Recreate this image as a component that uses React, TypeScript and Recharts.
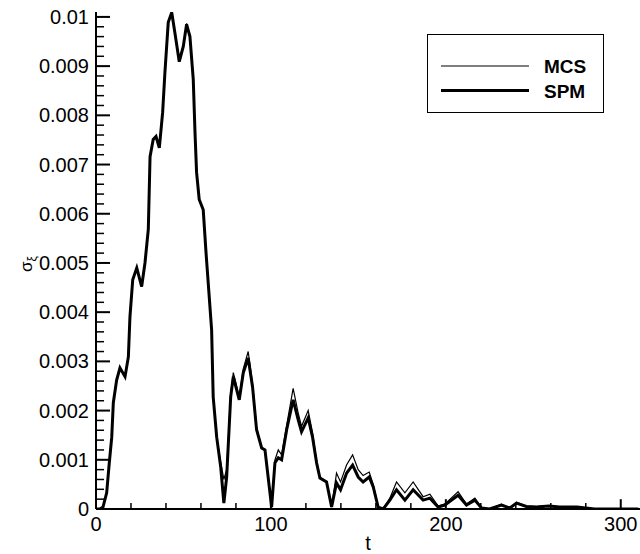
import { LineChart, Line, XAxis, YAxis, Legend, ReferenceLine } from "recharts";

// time samples shared by both curves
const tValues = [
  0, 2.3, 4, 6.1, 7.6, 9, 9.9, 11.8, 13.7, 16.6, 18.5, 19.4, 21, 23.3, 26.1, 28, 29.9,
  30.9, 32.7, 34.3, 36.2, 38.1, 39.4, 41.3, 43.3, 45.1, 47.6, 49.9, 51.8, 53.7, 55.6,
  56.6, 57.5, 59, 61.3, 62.9, 66.1, 67, 69, 71.3, 73.1, 74.7, 77, 78.5, 81.9, 84.2, 87,
  89.5, 91.8, 94.7, 96.6, 100.4, 102.3, 104.2, 106.1, 109, 112.7, 115.6, 117.5, 121.3,
  123.8, 126.1, 128, 131.8, 134.7, 137.5, 139.8, 143.3, 146.7, 149.9, 152.7, 156.2,
  158.5, 161.3, 164.2, 168, 171.8, 176.6, 181.3, 187, 190.9, 195.6, 199.4, 207, 211.8,
  216.6, 220.4, 225, 231.8, 236.6, 240.4, 246, 251.8, 259, 265, 275, 285, 310,
];

const mcsValues = [
  0, 0, 0.00004, 0.00033, 0.00094, 0.00146, 0.00216, 0.00262, 0.00287, 0.00269, 0.00309,
  0.0039, 0.00466, 0.0049, 0.00452, 0.005, 0.00568, 0.00716, 0.00751, 0.00757, 0.00734,
  0.00806, 0.00887, 0.00989, 0.01012, 0.00968, 0.00909, 0.0094, 0.00987, 0.0096,
  0.00873, 0.00765, 0.00684, 0.00629, 0.00608, 0.00521, 0.00364, 0.00228, 0.00146,
  0.00095, 0.0006, 0.0008, 0.00235, 0.00277, 0.00228, 0.00285, 0.0032, 0.00255,
  0.00165, 0.00126, 0.0012, 0.00004, 0.001, 0.0012, 0.0011, 0.0017, 0.00245, 0.00195,
  0.00168, 0.002, 0.00155, 0.00098, 0.00065, 0.00056, 0.00004, 0.00073, 0.00055, 0.0009,
  0.0011, 0.0008, 0.00068, 0.00075, 0.0005, 0.00004, 0, 0.00022, 0.00055, 0.00033,
  0.00055, 0.00025, 0.0003, 0.00006, 0.0001, 0.00035, 0.0001, 0.00022, 0.00003, 0,
  0.0001, 0.00002, 0.00014, 0.00006, 0.00005, 0.00007, 0.00004, 0.00004, 0, 0,
];

const spmValues = [
  0, 0, 0.00004, 0.00033, 0.00094, 0.00146, 0.00216, 0.00262, 0.00287, 0.00269, 0.00309,
  0.0039, 0.00466, 0.0049, 0.00452, 0.005, 0.00568, 0.00716, 0.00751, 0.00757, 0.00734,
  0.00806, 0.00887, 0.00989, 0.01009, 0.00968, 0.00909, 0.0094, 0.00985, 0.0096,
  0.00873, 0.00765, 0.00684, 0.00629, 0.00608, 0.00521, 0.00364, 0.00228, 0.00146,
  0.00085, 0.00012, 0.00065, 0.00228, 0.00269, 0.00222, 0.00277, 0.00307, 0.00248,
  0.00161, 0.00124, 0.0012, 0.00004, 0.00094, 0.00104, 0.001, 0.00161, 0.00222, 0.00181,
  0.00157, 0.00185, 0.00146, 0.00094, 0.00063, 0.00055, 0.00004, 0.00053, 0.00039,
  0.00073, 0.00089, 0.00065, 0.00055, 0.00065, 0.00045, 0.00004, 0, 0.00018, 0.00039,
  0.00018, 0.00039, 0.00018, 0.00022, 0.00004, 0.00008, 0.00028, 0.00008, 0.00018,
  0.00002, 0, 0.00008, 0.00002, 0.00012, 0.00005, 0.00004, 0.00006, 0.00004, 0.00004, 0, 0,
];

const xTickLabels = ["0", "100", "200", "300"];
const yTickLabels = [
  "0", "0.001", "0.002", "0.003", "0.004", "0.005", "0.006", "0.007", "0.008", "0.009", "0.01",
];

const series = [
  { key: "mcs", name: "MCS", width: 1.2 },
  { key: "spm", name: "SPM", width: 3 },
];

const data = tValues.map((t, i) => ({ t, mcs: mcsValues[i], spm: spmValues[i] }));

// minor ticks every 20 on t, every 0.0002 on sigma
const xTicks = Array.from({ length: 16 }, (_, i) => i * 20);
const yTicks = Array.from({ length: 51 }, (_, i) => i / 5000);

// inward tick lengths, in axis units (1 t = 1.75px, 0.001 = 49.2px)
const X_TICK_MAJOR = 0.0002;
const X_TICK_MINOR = 0.00012;
const Y_TICK_MAJOR = 8;
const Y_TICK_MINOR = 4.6;

const FONT = '"Liberation Sans", Arial, Helvetica, sans-serif';

const XTick = (props: any) => {
  const v = Math.round(props.payload.value);
  if (v % 100 !== 0) return <g />;
  return (
    <text x={props.x} y={props.y + 22} textAnchor="middle" fontSize={20} fontFamily={FONT} fill="#000">
      {xTickLabels[v / 100]}
    </text>
  );
};

const YTick = (props: any) => {
  const idx = Math.round(props.payload.value * 5000);
  if (idx % 5 !== 0) return <g />;
  return (
    <text x={props.x - 7} y={props.y + 7} textAnchor="end" fontSize={20} fontFamily={FONT} fill="#000">
      {yTickLabels[idx / 5]}
    </text>
  );
};

const LegendBox = () => (
  <div
    style={{
      width: 177,
      height: 79,
      border: "1.5px solid #000",
      boxSizing: "border-box",
      background: "#fff",
    }}
  >
    <svg width={174} height={76}>
      {series.map((s, i) => (
        <g key={s.key}>
          <line x1={13} x2={101} y1={31 + i * 24.5} y2={31 + i * 24.5} stroke="#000" strokeWidth={s.width} />
          <text x={116} y={38 + i * 24.5} fontSize={19} fontWeight="bold" fontFamily={FONT} fill="#000">
            {s.name}
          </text>
        </g>
      ))}
    </svg>
  </div>
);

const SigmaLabel = () => (
  <text transform="translate(32,272) rotate(-90)" fontSize={17} fontFamily={FONT} fill="#000">
    <tspan>σ</tspan>
    <tspan dy={4} fontSize={12}>ξ</tspan>
  </text>
);

export default function App() {
  return (
    <div style={{ position: "absolute", left: 0, top: 0, width: 640, height: 554, background: "#fff" }}>
      <LineChart width={640} height={554} data={data} margin={{ top: 12, right: 0, bottom: 0, left: 0 }}>
        <XAxis
          dataKey="t"
          type="number"
          domain={[0, 311]}
          ticks={xTicks}
          interval={0}
          height={45}
          tickSize={0}
          tickMargin={0}
          tickLine={false}
          tick={XTick}
          axisLine={{ stroke: "#000", strokeWidth: 2 }}
          allowDataOverflow
          label={{ value: "t", position: "insideBottom", offset: 4, fontSize: 20, fontFamily: FONT, fill: "#000" }}
        />
        <YAxis
          type="number"
          domain={[0, 0.0101]}
          ticks={yTicks}
          interval={0}
          width={96}
          tickSize={0}
          tickMargin={0}
          tickLine={false}
          tick={YTick}
          axisLine={{ stroke: "#000", strokeWidth: 2 }}
          allowDataOverflow
          label={{ content: () => <SigmaLabel /> }}
        />
        {/* tick marks point into the plot */}
        {xTicks.map((t) => {
          const major = t % 100 === 0;
          return (
            <ReferenceLine
              key={`xt${t}`}
              segment={[{ x: t, y: 0 }, { x: t, y: major ? X_TICK_MAJOR : X_TICK_MINOR }]}
              stroke="#000"
              strokeWidth={major ? 2 : 1.5}
              ifOverflow="visible"
            />
          );
        })}
        {yTicks.map((v, i) => {
          const major = i % 5 === 0;
          return (
            <ReferenceLine
              key={`yt${i}`}
              segment={[{ x: 0, y: v }, { x: major ? Y_TICK_MAJOR : Y_TICK_MINOR, y: v }]}
              stroke="#000"
              strokeWidth={major ? 2 : 1.5}
              ifOverflow="visible"
            />
          );
        })}
        <Legend
          layout="vertical"
          align="center"
          verticalAlign="middle"
          wrapperStyle={{ top: 34, left: 427, width: 177, height: 79 }}
          content={() => <LegendBox />}
        />
        {series.map((s) => (
          <Line
            key={s.key}
            type="linear"
            dataKey={s.key}
            name={s.name}
            stroke="#000"
            strokeWidth={s.width}
            dot={false}
            activeDot={false}
            isAnimationActive={false}
          />
        ))}
      </LineChart>
    </div>
  );
}
